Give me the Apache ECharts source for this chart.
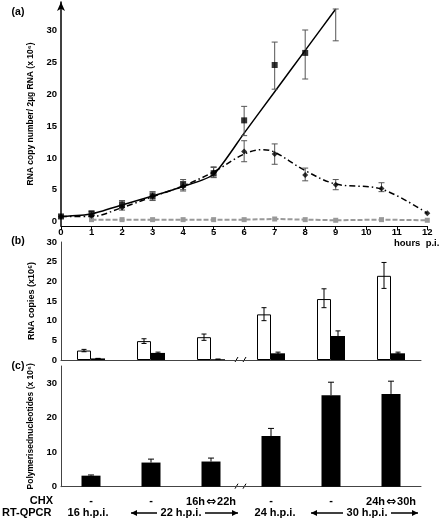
<!DOCTYPE html>
<html><head><meta charset="utf-8">
<script src="https://cdn.jsdelivr.net/npm/echarts@6/dist/echarts.min.js"></script>
<style>html,body{margin:0;padding:0;background:#fff}#c{width:440px;height:520px}</style>
</head><body><div id="c"></div><script>
// ---------- Panel (a) data ----------
const yTicksA = [0, 5, 10, 15, 20, 25, 30];
const fitSolidX = [0, 1, 2, 3, 4, 5, 6, 7, 8, 9];
const fitSolidY = [0.8, 1.2, 2.6, 4.0, 5.5, 7.4, 13.9, 20.4, 26.9, 33.4];
const squareX = [0, 1, 2, 3, 4, 5, 6, 7, 8];
const squareY = [0.8, 1.3, 2.7, 4.0, 5.8, 7.6, 15.9, 24.6, 26.5];
const squareErrX = [1, 2, 3, 4, 5, 6, 7, 8, 9];
const squareErrLo = [1.0, 2.2, 3.4, 5.0, 6.9, 13.5, 20.8, 22.4, 28.4];
const squareErrHi = [1.6, 3.3, 4.7, 6.6, 8.6, 18.1, 28.2, 30.1, 33.4];
const dashDotX = [0, 1, 2, 3, 4, 5, 6, 6.6, 7, 8, 9, 10.5, 12];
const dashDotY = [0.8, 0.8, 2.2, 3.9, 5.6, 7.8, 10.6, 11.3, 10.9, 8.0, 5.9, 5.1, 1.3];
const diamondX = [0, 1, 2, 3, 4, 5, 6, 7, 8, 9, 10.5, 12];
const diamondY = [0.8, 0.9, 2.2, 4.0, 5.5, 7.7, 11.0, 10.6, 7.3, 5.8, 5.2, 1.3];
const diamondErrX = [2, 3, 4, 5, 6, 7, 8, 9, 10.5];
const diamondErrLo = [1.8, 3.3, 4.8, 7.0, 9.4, 9.0, 6.4, 5.0, 4.7];
const diamondErrHi = [2.6, 4.6, 6.3, 8.5, 12.7, 12.2, 8.4, 6.6, 6.1];
const greyX = [1, 2, 3, 4, 5, 6, 7, 8, 9, 10.5, 12];
const greyY = [0.3, 0.3, 0.3, 0.3, 0.3, 0.3, 0.4, 0.3, 0.2, 0.3, 0.2];

// ---------- Panels (b) and (c) data ----------
const groupKeys = ['g1', 'g2', 'g3', 'g4', 'g5', 'g6'];
const chxLabels = ['-', '-', '16h⇔22h', '-', '-', '24h⇔30h'];
const rtLabels = ['16 h.p.i.', '22 h.p.i.', '24 h.p.i.', '30 h.p.i.'];
const whiteRNA = [2.4, 4.8, 5.8, 11.6, 15.5, 21.4];
const whiteLo = [2.1, 4.2, 5.0, 10.0, 13.3, 18.2];
const whiteHi = [2.7, 5.4, 6.6, 13.3, 18.1, 24.8];
const blackRNA = [0.4, 1.8, 0.2, 1.7, 6.1, 1.7];
const blackLo = [0.4, 1.6, 0.2, 1.4, 5.5, 1.5];
const blackHi = [0.4, 2.0, 0.2, 2.0, 7.4, 2.0];
const polyNt = [3.2, 7.0, 7.3, 14.7, 26.5, 26.9];
const polyHi = [3.4, 8.0, 8.3, 16.9, 30.3, 30.6];

const zip = (a, b) => a.map((v, i) => [v, b[i]]);
const zip3 = (a, b, c) => a.map((v, i) => [v, b[i], c[i]]);
const FONT = '"Liberation Sans", Arial, "DejaVu Sans", sans-serif';

function errRenderer(color, offset, cap, upOnly) {
  return function (params, api) {
    const x = api.value(0), lo = api.value(1), hi = api.value(2);
    const p1 = api.coord([x, lo]), p2 = api.coord([x, hi]);
    const cx = p1[0] + offset;
    const st = { stroke: color, lineWidth: 1 };
    const ch = [
      { type: 'line', shape: { x1: cx, y1: p1[1], x2: cx, y2: p2[1] }, style: st },
      { type: 'line', shape: { x1: cx - cap, y1: p2[1], x2: cx + cap, y2: p2[1] }, style: st }
    ];
    if (!upOnly) ch.push({ type: 'line', shape: { x1: cx - cap, y1: p1[1], x2: cx + cap, y2: p1[1] }, style: st });
    return { type: 'group', children: ch };
  };
}

const boldTxt = (size) => ({ fontFamily: FONT, fontWeight: 'bold', fontSize: size, color: '#000' });
const arrowRich = { fontFamily: '"DejaVu Sans"', fontWeight: 'bold', fontSize: 12, color: '#000', padding: [0, 1, 0, 1] };

const chart = echarts.init(document.getElementById('c'), null, { renderer: 'canvas' });
const option = {
  animation: false,
  backgroundColor: '#fff',
  grid: [
    { left: 61, top: 2, width: 366.3, height: 224 },
    { left: 61, top: 242, width: 360, height: 118 },
    { left: 61, top: 366, width: 360, height: 120.7 }
  ],
  xAxis: [
    { gridIndex: 0, type: 'value', min: 0, max: 12, interval: 1,
      axisLine: { onZero: false, lineStyle: { color: '#000', width: 1 } },
      axisTick: { show: true, length: 4, lineStyle: { color: '#000' } },
      axisLabel: Object.assign({ margin: 1 }, boldTxt(9.5)),
      splitLine: { show: false } },
    { gridIndex: 1, type: 'category', data: groupKeys,
      axisLine: { lineStyle: { color: '#444', width: 1 } },
      axisTick: { show: false }, axisLabel: { show: false } },
    { gridIndex: 2, type: 'category', data: groupKeys,
      axisLine: { lineStyle: { color: '#444', width: 1 } },
      axisTick: { show: false },
      axisLabel: Object.assign({ margin: 9, interval: 0, hideOverlap: false,
        formatter: (v, i) => chxLabels[i].replace('⇔', '{a|⇔}'),
        rich: { a: arrowRich } }, boldTxt(11)) }
  ],
  yAxis: [
    { gridIndex: 0, type: 'value', min: -0.7, max: 34.5,
      axisLine: { show: true, symbol: ['none', 'arrow'], symbolSize: [6, 9], lineStyle: { color: '#000', width: 1.5 } },
      axisTick: { show: false },
      axisLabel: Object.assign({ margin: 4, customValues: yTicksA }, boldTxt(9.5)),
      splitLine: { show: false },
      name: 'RNA copy number/ 2µg RNA (x 10⁶)', nameLocation: 'middle', nameGap: 18,
      nameTextStyle: boldTxt(8.5) },
    { gridIndex: 1, type: 'value', min: 0, max: 30, interval: 5,
      axisLine: { show: true, lineStyle: { color: '#444', width: 1 } },
      axisTick: { show: false },
      axisLabel: Object.assign({ margin: 4 }, boldTxt(9.5)),
      splitLine: { show: false },
      name: 'RNA copies (x10⁶)', nameLocation: 'middle', nameGap: 18,
      nameTextStyle: boldTxt(9) },
    { gridIndex: 2, type: 'value', min: 0, max: 35,
      axisLine: { show: true, lineStyle: { color: '#444', width: 1 } },
      axisTick: { show: false },
      axisLabel: Object.assign({ margin: 4, customValues: [0, 10, 20, 30] }, boldTxt(9.5)),
      splitLine: { show: false },
      name: 'Polymerisednucleotides (x 10⁶)', nameLocation: 'middle', nameGap: 18,
      nameTextStyle: boldTxt(8.5) }
  ],
  series: [
    { type: 'line', xAxisIndex: 0, yAxisIndex: 0, data: zip(greyX, greyY),
      symbol: 'rect', symbolSize: 5, itemStyle: { color: '#999' },
      lineStyle: { color: '#999', width: 2, type: [5, 2] }, z: 2 },
    { type: 'line', xAxisIndex: 0, yAxisIndex: 0, data: zip(fitSolidX, fitSolidY),
      showSymbol: false, smooth: 0.2, lineStyle: { color: '#000', width: 1.5 }, z: 3 },
    { type: 'line', xAxisIndex: 0, yAxisIndex: 0, data: zip(dashDotX, dashDotY),
      showSymbol: false, smooth: 0.35, lineStyle: { color: '#000', width: 1.5, type: [6, 3, 1.5, 3] }, z: 3 },
    { type: 'custom', xAxisIndex: 0, yAxisIndex: 0, data: zip3(squareErrX, squareErrLo, squareErrHi),
      renderItem: errRenderer('#555', 0, 3, false), encode: { x: 0, y: [1, 2] }, clip: false, z: 4 },
    { type: 'custom', xAxisIndex: 0, yAxisIndex: 0, data: zip3(diamondErrX, diamondErrLo, diamondErrHi),
      renderItem: errRenderer('#555', 0, 3, false), encode: { x: 0, y: [1, 2] }, clip: false, z: 4 },
    { type: 'scatter', xAxisIndex: 0, yAxisIndex: 0, data: zip(squareX, squareY),
      symbol: 'rect', symbolSize: 6, itemStyle: { color: '#000' }, z: 5 },
    { type: 'scatter', xAxisIndex: 0, yAxisIndex: 0, data: zip(diamondX, diamondY),
      symbol: 'diamond', symbolSize: 6, itemStyle: { color: '#000' }, z: 5 },

    { type: 'bar', xAxisIndex: 1, yAxisIndex: 1, data: whiteRNA, barWidth: 14, barGap: '0%',
      itemStyle: { color: '#fff', borderColor: '#000', borderWidth: 1 } },
    { type: 'bar', xAxisIndex: 1, yAxisIndex: 1, data: blackRNA, barWidth: 14, barGap: '0%',
      itemStyle: { color: '#000' } },
    { type: 'custom', xAxisIndex: 1, yAxisIndex: 1, data: zip3(groupKeys.map((k, i) => i), whiteLo, whiteHi),
      renderItem: errRenderer('#000', -7, 2.5, false), encode: { x: 0, y: [1, 2] }, clip: false, z: 5 },
    { type: 'custom', xAxisIndex: 1, yAxisIndex: 1, data: zip3(groupKeys.map((k, i) => i), blackLo, blackHi),
      renderItem: errRenderer('#000', 7, 2.5, false), encode: { x: 0, y: [1, 2] }, clip: false, z: 5 },

    { type: 'bar', xAxisIndex: 2, yAxisIndex: 2, data: polyNt, barWidth: 19, itemStyle: { color: '#000' } },
    { type: 'custom', xAxisIndex: 2, yAxisIndex: 2, data: zip3(groupKeys.map((k, i) => i), polyNt, polyHi),
      renderItem: errRenderer('#000', 0, 3, true), encode: { x: 0, y: [1, 2] }, clip: false, z: 5 }
  ]
};
chart.setOption(option);

// ---------- annotations positioned from the axes ----------
const cx = groupKeys.map((k, i) => chart.convertToPixel({ xAxisIndex: 2 }, i));
const yB0 = chart.convertToPixel({ yAxisIndex: 1 }, 0);
const yC0 = chart.convertToPixel({ yAxisIndex: 2 }, 0);
const brkX = (cx[2] + cx[3]) / 2;
const txt = (t, x, y, size, align) => ({ type: 'text', x: x, y: y,
  style: { text: t, fill: '#000', fontFamily: FONT, fontWeight: 'bold', fontSize: size,
           align: align || 'center', verticalAlign: 'middle' } });
const ln = (x1, y1, x2, y2, w) => ({ type: 'line', shape: { x1, y1, x2, y2 }, style: { stroke: '#000', lineWidth: w || 1 } });
const head = (x, y, dir) => ({ type: 'polygon', shape: { points: [[x, y], [x - dir * 6, y - 3], [x - dir * 6, y + 3]] }, style: { fill: '#000' } });
const rowY = 513;
function spanArrow(c1, c2, label, shift) {
  const tc = (c1 + c2) / 2 + shift;
  const L1 = c1 - 20, L2 = tc - 24, R1 = tc + 24, R2 = c2 + 27;
  return [txt(label, tc, rowY, 11),
    ln(L1, rowY, L2, rowY, 1.5), head(L1, rowY, -1),
    ln(R1, rowY, R2, rowY, 1.5), head(R2, rowY, 1)];
}
const graphics = [
  txt('(a)', 18, 12, 10.5), txt('(b)', 18, 241, 10.5), txt('(c)', 18, 366, 10.5),
  txt('hours  p.i.', 394, 243, 9.5, 'left'),
  txt('CHX', 53, 501, 11, 'right'), txt('RT-QPCR', 2, rowY, 11, 'left'),
  ln(brkX - 6, yB0 + 2, brkX - 3, yB0 - 3), ln(brkX + 2, yB0 + 2, brkX + 5, yB0 - 3),
  ln(brkX - 6, yC0 + 2, brkX - 3, yC0 - 3), ln(brkX + 2, yC0 + 2, brkX + 5, yC0 - 3),
  txt(rtLabels[0], cx[0] - 3, rowY, 11),
  txt(rtLabels[2], cx[3] + 4, rowY, 11)
].concat(spanArrow(cx[1], cx[2], rtLabels[1], 0)).concat(spanArrow(cx[4], cx[5], rtLabels[3], 6));
chart.setOption({ graphic: graphics });
</script></body></html>
